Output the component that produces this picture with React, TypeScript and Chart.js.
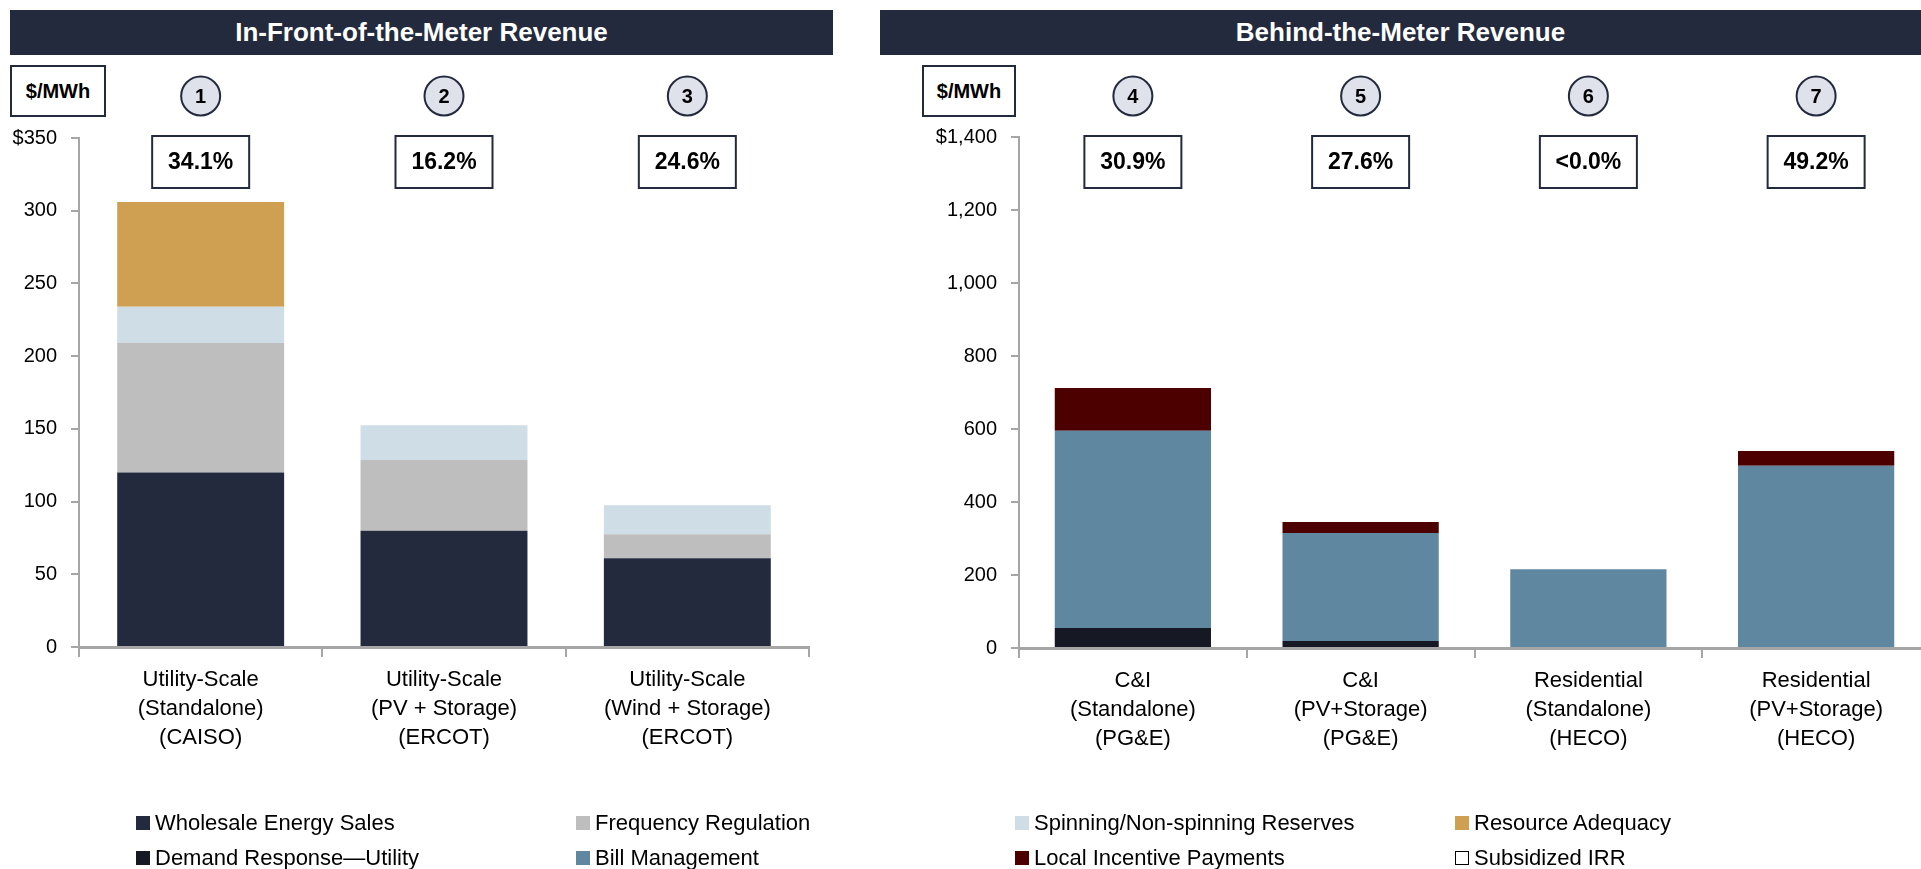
import React, { useEffect, useRef } from 'react';
import { Chart, registerables } from 'chart.js';

Chart.register(...registerables);

const FONT = '"Liberation Sans", Arial, Helvetica, sans-serif';

// ---------- Data: In-Front-of-the-Meter ----------
const leftCategories = [
  ['Utility-Scale', '(Standalone)', '(CAISO)'],
  ['Utility-Scale', '(PV + Storage)', '(ERCOT)'],
  ['Utility-Scale', '(Wind + Storage)', '(ERCOT)'],
];
const leftMarkers = ['1', '2', '3'];
const leftIrr = ['34.1%', '16.2%', '24.6%'];
const leftWholesale = [120, 80, 61];
const leftFrequencyRegulation = [89, 48.5, 16.5];
const leftSpinningReserves = [25, 24, 20];
const leftResourceAdequacy = [72, 0, 0];
const leftAxisMax = 350;
const leftAxisStep = 50;

// ---------- Data: Behind-the-Meter ----------
const rightCategories = [
  ['C&I', '(Standalone)', '(PG&E)'],
  ['C&I', '(PV+Storage)', '(PG&E)'],
  ['Residential', '(Standalone)', '(HECO)'],
  ['Residential', '(PV+Storage)', '(HECO)'],
];
const rightMarkers = ['4', '5', '6', '7'];
const rightIrr = ['30.9%', '27.6%', '<0.0%', '49.2%'];
const rightDemandResponse = [55, 19, 0, 0];
const rightBillManagement = [540, 296, 216, 499];
const rightLocalIncentive = [117, 30, 0, 41];
const rightAxisMax = 1400;
const rightAxisStep = 200;

const COLORS = {
  navy: '#232A3E',
  wholesale: '#232A3E',
  freq: '#BEBEBE',
  spinning: '#CFDDE7',
  ra: '#CFA052',
  dr: '#161824',
  bill: '#5F879F',
  lip: '#4D0000',
  axis: '#A6A6A6',
};

const legendItems = [
  { label: 'Wholesale Energy Sales', color: COLORS.wholesale, x: 136, row: 0 },
  { label: 'Frequency Regulation', color: COLORS.freq, x: 576, row: 0 },
  { label: 'Demand Response\u2014Utility', color: COLORS.dr, x: 136, row: 1 },
  { label: 'Bill Management', color: COLORS.bill, x: 576, row: 1 },
  { label: 'Spinning/Non-spinning Reserves', color: COLORS.spinning, x: 1015, row: 0 },
  { label: 'Resource Adequacy', color: COLORS.ra, x: 1455, row: 0 },
  { label: 'Local Incentive Payments', color: COLORS.lip, x: 1015, row: 1 },
  { label: 'Subsidized IRR', color: '#FFFFFF', x: 1455, row: 1, outline: true },
];

const markerPlugin = {
  id: 'irrMarkers',
  afterDraw(chart: any, _args: any, opts: any) {
    const { ctx } = chart;
    const xs = chart.scales.x;
    (opts.markers as string[]).forEach((m, i) => {
      const x = xs.getPixelForValue(i);
      ctx.save();
      ctx.beginPath();
      ctx.arc(x, 96, 19.5, 0, Math.PI * 2);
      ctx.fillStyle = '#DFE2EB';
      ctx.fill();
      ctx.lineWidth = 2;
      ctx.strokeStyle = COLORS.navy;
      ctx.stroke();
      ctx.fillStyle = '#000';
      ctx.font = `bold 20px ${FONT}`;
      ctx.textAlign = 'center';
      ctx.textBaseline = 'middle';
      ctx.fillText(m, x, 97);
      const w = 97, h = 52, top = 136;
      ctx.fillStyle = '#fff';
      ctx.fillRect(x - w / 2, top, w, h);
      ctx.lineWidth = 2;
      ctx.strokeStyle = COLORS.navy;
      ctx.strokeRect(x - w / 2, top, w, h);
      ctx.fillStyle = '#000';
      ctx.font = `bold 23px ${FONT}`;
      ctx.fillText(opts.irr[i], x, top + h / 2 + 1);
      ctx.restore();
    });
  },
};

function makeConfig(opts: {
  labels: string[][];
  datasets: { label: string; data: number[]; color: string }[];
  max: number;
  step: number;
  yWidth: number;
  padTop: number;
  padRight: number;
  xHeight: number;
  markers: string[];
  irr: string[];
}): any {
  const fmt = (v: number) => v.toLocaleString('en-US');
  return {
    type: 'bar',
    data: {
      labels: opts.labels,
      datasets: opts.datasets.map((d) => ({
        label: d.label,
        data: d.data,
        backgroundColor: d.color,
        borderWidth: 0,
        categoryPercentage: 1,
        barPercentage: 0.686,
      })),
    },
    plugins: [markerPlugin],
    options: {
      responsive: false,
      animation: false,
      layout: { padding: { top: opts.padTop, right: opts.padRight, bottom: 0, left: 0 } },
      plugins: {
        legend: { display: false },
        tooltip: { enabled: false },
        irrMarkers: { markers: opts.markers, irr: opts.irr },
      },
      scales: {
        x: {
          stacked: true,
          offset: true,
          grid: {
            display: true,
            offset: true,
            drawOnChartArea: false,
            drawTicks: true,
            tickLength: 10,
            color: COLORS.axis,
            lineWidth: 2,
          },
          border: { display: true, color: COLORS.axis, width: 3 },
          ticks: {
            autoSkip: false,
            maxRotation: 0,
            padding: 8,
            color: '#000',
            font: { family: FONT, size: 22, lineHeight: 1.32 },
          },
          afterFit: (s: any) => {
            s.height = opts.xHeight;
          },
        },
        y: {
          stacked: true,
          min: 0,
          max: opts.max,
          grid: {
            drawOnChartArea: false,
            drawTicks: true,
            tickLength: 8,
            color: COLORS.axis,
            lineWidth: 2,
          },
          border: { display: true, color: COLORS.axis, width: 2 },
          ticks: {
            stepSize: opts.step,
            padding: 14,
            color: '#000',
            font: { family: FONT, size: 20 },
            callback: (v: number) => (v === opts.max ? '$' + fmt(v) : fmt(v)),
          },
          afterFit: (s: any) => {
            s.width = opts.yWidth;
          },
        },
      },
    },
  };
}

function ChartCanvas({ left, width, height, config }: { left: number; width: number; height: number; config: any }) {
  const ref = useRef<HTMLCanvasElement | null>(null);
  useEffect(() => {
    if (!ref.current) return;
    const chart = new Chart(ref.current, config);
    return () => chart.destroy();
  }, []);
  return (
    <canvas
      ref={ref}
      width={width}
      height={height}
      style={{ position: 'absolute', left, top: 0, width, height }}
    />
  );
}

const headerStyle = (left: number, width: number): React.CSSProperties => ({
  position: 'absolute',
  left,
  top: 10,
  width,
  height: 45,
  background: COLORS.navy,
  color: '#fff',
  fontWeight: 'bold',
  fontSize: 26,
  display: 'flex',
  alignItems: 'center',
  justifyContent: 'center',
});

const unitStyle = (left: number, width: number): React.CSSProperties => ({
  position: 'absolute',
  left,
  top: 65,
  width,
  height: 52,
  boxSizing: 'border-box',
  border: `2px solid ${COLORS.navy}`,
  background: '#fff',
  fontWeight: 'bold',
  fontSize: 20,
  display: 'flex',
  alignItems: 'center',
  justifyContent: 'center',
});

export default function App() {
  const H = 869;
  const leftConfig = makeConfig({
    labels: leftCategories,
    datasets: [
      { label: 'Wholesale Energy Sales', data: leftWholesale, color: COLORS.wholesale },
      { label: 'Frequency Regulation', data: leftFrequencyRegulation, color: COLORS.freq },
      { label: 'Spinning/Non-spinning Reserves', data: leftSpinningReserves, color: COLORS.spinning },
      { label: 'Resource Adequacy', data: leftResourceAdequacy, color: COLORS.ra },
    ],
    max: leftAxisMax,
    step: leftAxisStep,
    yWidth: 79,
    padTop: 138,
    padRight: 51,
    xHeight: H - 647,
    markers: leftMarkers,
    irr: leftIrr,
  });
  const rightConfig = makeConfig({
    labels: rightCategories,
    datasets: [
      { label: 'Demand Response\u2014Utility', data: rightDemandResponse, color: COLORS.dr },
      { label: 'Bill Management', data: rightBillManagement, color: COLORS.bill },
      { label: 'Local Incentive Payments', data: rightLocalIncentive, color: COLORS.lip },
    ],
    max: rightAxisMax,
    step: rightAxisStep,
    yWidth: 159,
    padTop: 137,
    padRight: 0,
    xHeight: H - 648,
    markers: rightMarkers,
    irr: rightIrr,
  });

  return (
    <div
      style={{
        position: 'fixed',
        left: 0,
        top: 0,
        width: 1921,
        height: H,
        overflow: 'hidden',
        background: '#fff',
        fontFamily: FONT,
        color: '#000',
      }}
    >
      <div style={headerStyle(10, 823)}>In-Front-of-the-Meter Revenue</div>
      <div style={headerStyle(880, 1041)}>Behind-the-Meter Revenue</div>
      <ChartCanvas left={0} width={860} height={H} config={leftConfig} />
      <ChartCanvas left={860} width={1070} height={H} config={rightConfig} />
      <div style={unitStyle(10, 96)}>$/MWh</div>
      <div style={unitStyle(922, 94)}>$/MWh</div>
      {legendItems.map((it) => (
        <div
          key={it.label}
          style={{
            position: 'absolute',
            left: it.x,
            top: (it.row === 0 ? 823 : 858) - 14,
            height: 28,
            display: 'flex',
            alignItems: 'center',
            fontSize: 22,
            whiteSpace: 'nowrap',
          }}
        >
          <span
            style={{
              display: 'inline-block',
              width: 14,
              height: 14,
              boxSizing: 'border-box',
              background: it.color,
              border: it.outline ? '1.5px solid #000' : 'none',
              marginRight: 5,
            }}
          />
          {it.label}
        </div>
      ))}
    </div>
  );
}
